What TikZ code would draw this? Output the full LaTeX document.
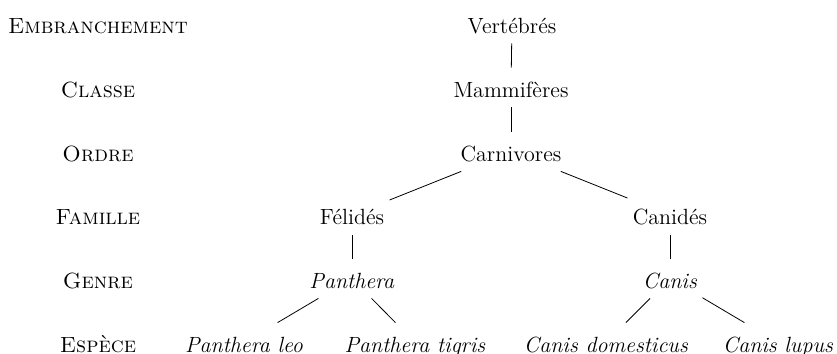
\documentclass[tikz,border=0pt]{standalone}
\usepackage{tikz}
\tikzset{taxon/.style={inner sep=2.5pt,text height=12pt,text depth=2.5pt,anchor=base,font=\fontsize{11}{13}\selectfont},
  rang/.style={anchor=base,font=\fontsize{11}{13}\selectfont\scshape}}
\begin{document}
\begin{tikzpicture}[x=0.5pt,y=-0.5pt]
              \useasboundingbox (0,0) rectangle (837,354);
              % rangs
              \node[rang](lemb)at(98,33){Embranchement};
              \node[rang](lcla)at(98,97){Classe};
              \node[rang](lord)at(98,161){Ordre};
              \node[rang](lfam)at(98,224.5){Famille};
              \node[rang](lgen)at(98,288){Genre};
              \node[rang](lesp)at(98,352){Espèce};
              % arbre
              \node[taxon](vert)at(512,33){Vertébrés};
              \node[taxon](mamm)at(511,97){Mammifères};
              \node[taxon](carn)at(511,161){Carnivores};
              \node[taxon](feli)at(352,224.5){Félidés};
              \node[taxon](cani)at(670,224.5){Canidés};
              \node[taxon](panth)at(352,288){\textit{Panthera}};
              \node[taxon](canis)at(670,288){\textit{Canis}};
              \node[taxon](leo)at(244,352){\textit{Panthera leo}};
              \node[taxon](tigris)at(415,352){\textit{Panthera tigris}};
              \node[taxon](domest)at(606,352){\textit{Canis domesticus}};
              \node[taxon](lupus)at(778,352){\textit{Canis lupus}};
              \draw (vert)--(mamm);
              \draw (mamm)--(carn);
              \draw (carn)--(feli);
              \draw (carn)--(cani);
              \draw (feli)--(panth);
              \draw (cani)--(canis);
              \draw (panth)--(leo);
              \draw (panth)--(tigris);
              \draw (canis)--(domest);
              \draw (canis)--(lupus);
            \end{tikzpicture}
\end{document}
